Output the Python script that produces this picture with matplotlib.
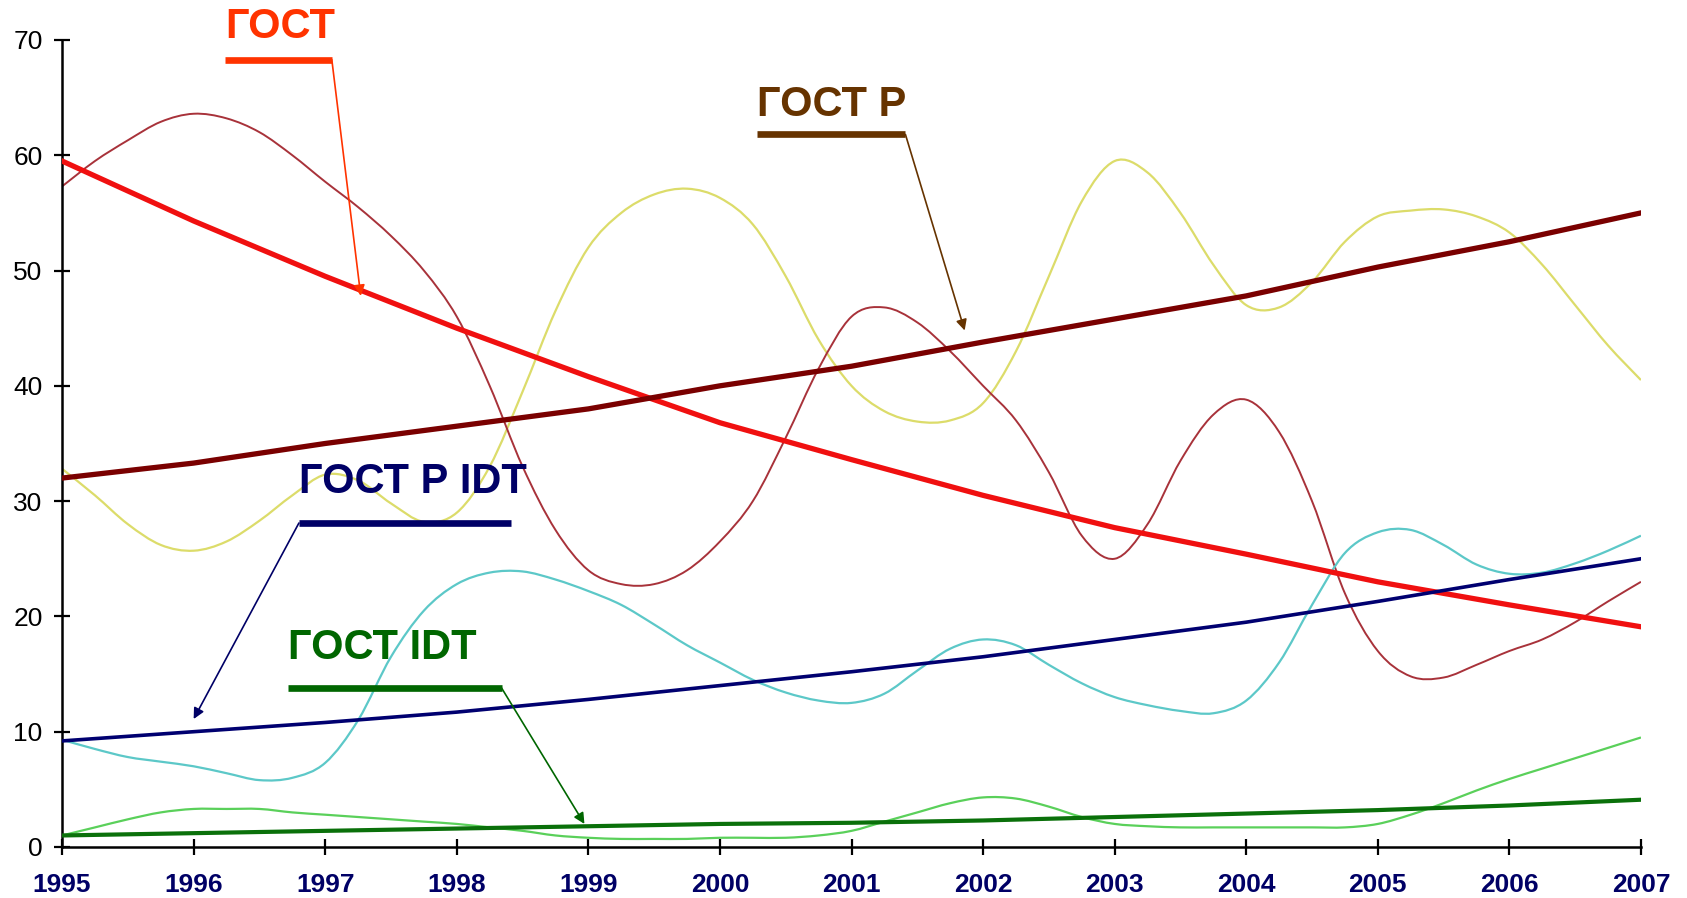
import matplotlib.pyplot as plt
from matplotlib.path import Path
from matplotlib.patches import PathPatch
import numpy as np

plt.rcParams['font.family'] = ['Liberation Sans', 'DejaVu Sans']

# --- DATA ---
years = list(range(1995, 2008))
quarters = [1995 + 0.25 * i for i in range(49)]

gost = [59.5, 54.3, 49.5, 45.0, 40.8, 36.8, 33.6, 30.5, 27.7, 25.4, 23.0, 21.0, 19.1]
gost_r = [32.0, 33.3, 35.0, 36.5, 38.0, 40.0, 41.7, 43.8, 45.8, 47.8, 50.3, 52.5, 55.0]
gost_r_idt = [9.2, 10.0, 10.8, 11.7, 12.8, 14.0, 15.2, 16.5, 18.0, 19.5, 21.3, 23.2, 25.0]
gost_idt = [1.0, 1.2, 1.4, 1.6, 1.8, 2.0, 2.1, 2.3, 2.6, 2.9, 3.2, 3.6, 4.1]

wave_darkred = [57.3, 59.5, 61.3, 62.9, 63.6, 63.2, 62.0, 60.0, 57.7, 55.5, 53.0, 50.0,
                46.0, 40.0, 33.0, 27.5, 24.0, 22.8, 22.8, 24.0, 26.5, 30.0, 35.5, 41.5,
                46.0, 46.8, 45.5, 43.0, 40.0, 37.0, 32.5, 27.0, 25.0, 28.0, 33.5, 37.5,
                38.8, 36.0, 30.0, 22.0, 17.0, 14.8, 14.7, 15.8, 17.0, 18.0, 19.5, 21.3, 23.0]
wave_yellow = [32.8, 30.5, 28.0, 26.2, 25.7, 26.5, 28.3, 30.5, 32.3, 31.8, 29.8, 28.2,
               29.0, 33.0, 39.5, 46.5, 52.0, 55.0, 56.6, 57.1, 56.3, 54.0, 49.5, 44.0,
               40.0, 37.8, 36.9, 37.0, 38.5, 43.0, 49.5, 56.0, 59.5, 58.5, 55.0, 50.5,
               47.0, 46.8, 49.0, 52.5, 54.7, 55.2, 55.3, 54.7, 53.3, 50.5, 47.0, 43.5, 40.5]
wave_cyan = [9.3, 8.5, 7.8, 7.4, 7.0, 6.4, 5.8, 6.0, 7.3, 11.0, 16.5, 20.5,
             22.8, 23.8, 23.9, 23.2, 22.2, 21.0, 19.3, 17.5, 16.0, 14.5, 13.4, 12.7,
             12.5, 13.3, 15.3, 17.2, 18.0, 17.5, 15.8, 14.2, 13.0, 12.3, 11.8, 11.6,
             12.7, 16.0, 21.0, 25.5, 27.3, 27.5, 26.2, 24.5, 23.7, 23.8, 24.6, 25.7, 27.0]
wave_green = [1.0, 1.7, 2.4, 3.0, 3.3, 3.3, 3.3, 3.0, 2.8, 2.6, 2.4, 2.2,
              2.0, 1.7, 1.4, 1.0, 0.8, 0.7, 0.7, 0.7, 0.8, 0.8, 0.8, 1.0,
              1.4, 2.2, 3.0, 3.8, 4.3, 4.2, 3.5, 2.6, 2.0, 1.8, 1.7, 1.7,
              1.7, 1.7, 1.7, 1.7, 2.0, 2.8, 3.8, 4.9, 5.9, 6.8, 7.7, 8.6, 9.5]


def smooth_line(ax, xs, ys, color, lw):
    # Excel-style smoothed line: bezier path through the points
    xs = np.asarray(xs, float)
    ys = np.asarray(ys, float)
    verts = [(xs[0], ys[0])]
    codes = [Path.MOVETO]
    n = len(xs)
    for i in range(n - 1):
        p0 = (xs[max(i - 1, 0)], ys[max(i - 1, 0)])
        p1 = (xs[i], ys[i])
        p2 = (xs[i + 1], ys[i + 1])
        p3 = (xs[min(i + 2, n - 1)], ys[min(i + 2, n - 1)])
        c1 = (p1[0] + (p2[0] - p0[0]) / 6, p1[1] + (p2[1] - p0[1]) / 6)
        c2 = (p2[0] - (p3[0] - p1[0]) / 6, p2[1] - (p3[1] - p1[1]) / 6)
        verts += [c1, c2, p2]
        codes += [Path.CURVE4] * 3
    ax.add_patch(PathPatch(Path(verts, codes), facecolor='none',
                           edgecolor=color, lw=lw, zorder=2))


# --- PLOT ---
fig = plt.figure(figsize=(16.87, 8.98), dpi=100)
ax = fig.add_axes([0.0368, 0.0568, 0.9359, 0.8987])

# thin wavy lines
smooth_line(ax, quarters, wave_yellow, '#DCDC6A', 1.6)
smooth_line(ax, quarters, wave_darkred, '#A8323A', 1.4)
smooth_line(ax, quarters, wave_cyan, '#5CC8C8', 1.6)
smooth_line(ax, quarters, wave_green, '#5AD05A', 1.6)

# trend lines
ax.plot(years, gost, color='#F01010', lw=3.8, zorder=3)
ax.plot(years, gost_r, color='#7A0000', lw=3.8, zorder=3)
ax.plot(years, gost_r_idt, color='#000070', lw=2.6, zorder=3)
ax.plot(years, gost_idt, color='#0A700A', lw=3.0, zorder=3)

# labels: text, colour, bar x-range, text y, bar y, arrow start x, arrow tip
labels = [
    ('ГОСТ', '#FF3300', 1996.24, 1997.05, 71.1, 68.3, 1997.05, (1997.27, 47.8)),
    ('ГОСТ Р', '#663300', 2000.28, 2001.41, 64.4, 61.8, 2001.41, (2001.86, 44.8)),
    ('ГОСТ Р IDT', '#000066', 1996.80, 1998.41, 31.7, 28.1, 1996.80, (1996.0, 11.1)),
    ('ГОСТ IDT', '#006600', 1996.72, 1998.34, 17.3, 13.8, 1998.34, (1998.97, 2.0)),
]
for text, col, x0, x1, ty, by, ax0, tip in labels:
    ax.text(x0, ty, text, color=col, fontsize=30, fontweight='bold',
            ha='left', va='center', clip_on=False, zorder=5)
    ax.plot([x0, x1], [by, by], color=col, lw=4.8, solid_capstyle='butt',
            clip_on=False, zorder=5)
    ax.annotate('', xy=tip, xytext=(ax0, by), annotation_clip=False,
                arrowprops=dict(arrowstyle='-|>', color=col, lw=1.2,
                                mutation_scale=16, shrinkA=0, shrinkB=0),
                zorder=5)

ax.set_xlim(1995, 2007)
ax.set_ylim(0, 70)
ax.set_xticks(years)
ax.set_yticks(range(0, 71, 10))

for s in ['top', 'right']:
    ax.spines[s].set_visible(False)
for s in ['left', 'bottom']:
    ax.spines[s].set_linewidth(1.8)
    ax.spines[s].set_color('black')

ax.tick_params(axis='both', direction='inout', length=12, width=1.6, color='black')
ax.tick_params(axis='x', pad=13, labelsize=19, labelcolor='#000066')
ax.tick_params(axis='y', pad=8, labelsize=19, labelcolor='black')
for lab in ax.get_xticklabels():
    lab.set_fontweight('bold')

fig.savefig('out.png', dpi=100)
